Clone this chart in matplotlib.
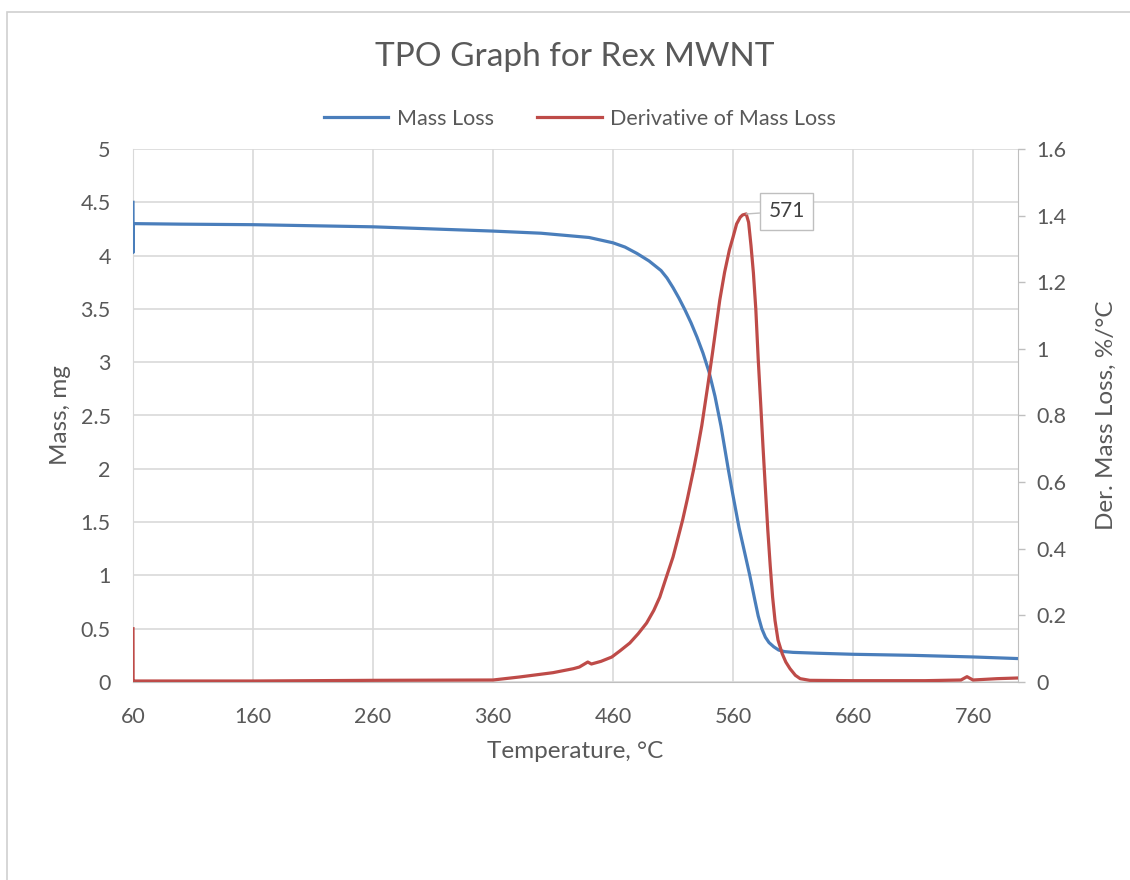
import matplotlib
matplotlib.use("Agg")
import matplotlib.pyplot as plt
from matplotlib.patches import Rectangle

# Temperature (deg C) and sample mass (mg)
temp_mass = [60.0, 60.1, 60.3, 100, 160, 260, 360, 400, 440, 460, 470, 480, 490,
             500, 505, 510, 515, 520, 525, 530, 535, 540, 545, 550, 556, 560,
             565, 570, 574, 578, 581, 584, 587, 590, 594, 598, 603, 610, 630,
             660, 710, 760, 797]
mass_mg = [4.50, 4.03, 4.30, 4.295, 4.29, 4.27, 4.23, 4.21, 4.17, 4.12, 4.08,
           4.02, 3.95, 3.86, 3.79, 3.70, 3.60, 3.49, 3.37, 3.235, 3.085, 2.91,
           2.68, 2.40, 2.00, 1.75, 1.45, 1.20, 1.00, 0.78, 0.62, 0.50, 0.42,
           0.37, 0.33, 0.30, 0.285, 0.278, 0.27, 0.26, 0.25, 0.235, 0.22]

# Temperature (deg C) and derivative of mass loss (%/deg C)
temp_deriv = [60.0, 60.1, 60.3, 160, 260, 360, 382, 410, 427, 432, 439, 442,
              450, 459, 466, 474, 481, 488, 494, 499, 504, 510, 514, 518, 522,
              527, 530, 534, 539, 543, 549, 553, 557, 560, 563, 566, 568, 571,
              573, 575, 577, 579, 581, 583, 585, 587, 589, 591, 593, 595, 597.5,
              601, 604, 607.5, 612, 616, 624, 660, 720, 750, 755, 760, 780, 797]
deriv_pct = [0.16, 0.0, 0.003, 0.003, 0.005, 0.006, 0.015, 0.028, 0.040, 0.045,
             0.060, 0.054, 0.062, 0.075, 0.094, 0.117, 0.145, 0.177, 0.215,
             0.255, 0.31, 0.375, 0.43, 0.486, 0.55, 0.635, 0.69, 0.77, 0.89,
             0.99, 1.147, 1.23, 1.297, 1.335, 1.375, 1.395, 1.402, 1.405, 1.38,
             1.31, 1.228, 1.12, 0.97, 0.84, 0.706, 0.58, 0.456, 0.35, 0.255,
             0.185, 0.126, 0.085, 0.06, 0.04, 0.02, 0.01, 0.005, 0.004, 0.004,
             0.006, 0.016, 0.006, 0.010, 0.012]

peak_temp = 571
peak_value = 1.405

x_ticks = [60, 160, 260, 360, 460, 560, 660, 760]
left_ticks = [0, 0.5, 1, 1.5, 2, 2.5, 3, 3.5, 4, 4.5, 5]
right_ticks = [0, 0.2, 0.4, 0.6, 0.8, 1.0, 1.2, 1.4, 1.6]

BLUE = "#4a7ebb"
RED = "#be4b48"
GRID = "#d9d9d9"
AXIS = "#bfbfbf"
TXT = "#595959"

plt.rcParams["font.family"] = ["Lato", "DejaVu Sans"]

fig = plt.figure(figsize=(11.3, 8.8), dpi=100)
fig.patches.append(Rectangle((7 / 1130, -0.01), 1.02, 1 - 12 / 880 + 0.01,
                             transform=fig.transFigure, fill=False,
                             edgecolor="#d0d0d0", linewidth=1.2))

ax = fig.add_axes([133 / 1130, 1 - 682 / 880, (1018 - 133) / 1130, (682 - 149) / 880])
ax2 = ax.twinx()

ax.set_xlim(60, 797.5)
ax.set_ylim(0, 5)
ax2.set_ylim(0, 1.6)

ax.set_xticks(x_ticks)
ax.set_yticks(left_ticks)
ax.set_yticklabels([f"{v:g}" for v in left_ticks])
ax2.set_yticks(right_ticks)
ax2.set_yticklabels([f"{v:g}" for v in right_ticks])

ax.grid(True, color=GRID, linewidth=1.2)
ax.set_axisbelow(True)

for a in (ax, ax2):
    for s in a.spines.values():
        s.set_visible(False)
ax.spines["bottom"].set_visible(True)
ax.spines["bottom"].set_color(AXIS)
ax.spines["left"].set_visible(True)
ax.spines["left"].set_color(GRID)
ax2.spines["right"].set_visible(True)
ax2.spines["right"].set_color(AXIS)

ax.tick_params(axis="x", length=0, pad=18, labelsize=15.5, labelcolor=TXT)
ax.tick_params(axis="y", length=0, pad=16, labelsize=15.5, labelcolor=TXT)
ax2.tick_params(axis="y", length=5, width=1, color=AXIS, pad=8,
                labelsize=15.5, labelcolor=TXT)

l1, = ax.plot(temp_mass, mass_mg, color=BLUE, linewidth=2.3,
              solid_joinstyle="round", label="Mass Loss", zorder=3)
l2, = ax2.plot(temp_deriv, deriv_pct, color=RED, linewidth=2.3,
               solid_joinstyle="round", label="Derivative of Mass Loss", zorder=3)

ax2.annotate(f"{peak_temp}", xy=(peak_temp, peak_value), xytext=(16, 2),
             textcoords="offset points", fontsize=15, color="#404040",
             va="center", ha="left",
             bbox=dict(boxstyle="square,pad=0.4", fc="white", ec="#bfbfbf", lw=1),
             arrowprops=dict(arrowstyle="-", color="#bfbfbf", lw=1,
                             shrinkA=0, shrinkB=0))

ax.set_xlabel("Temperature, °C", fontsize=17.5, color=TXT, labelpad=10)
ax.set_ylabel("Mass, mg", fontsize=17.5, color=TXT, labelpad=7)
ax2.set_ylabel("Der. Mass Loss, %/°C", fontsize=17.5, color=TXT, labelpad=21)

fig.text(575 / 1130, 1 - 57 / 880, "TPO Graph for Rex MWNT", ha="center",
         va="center", fontsize=24, color=TXT)

fig.legend(handles=[l1, l2], loc="center", bbox_to_anchor=(580 / 1130, 1 - 119 / 880),
           ncol=2, frameon=False, fontsize=15.5, labelcolor=TXT,
           handlelength=3, columnspacing=2.0, handletextpad=0.4)

fig.savefig("out.png", dpi=100, facecolor="white")
